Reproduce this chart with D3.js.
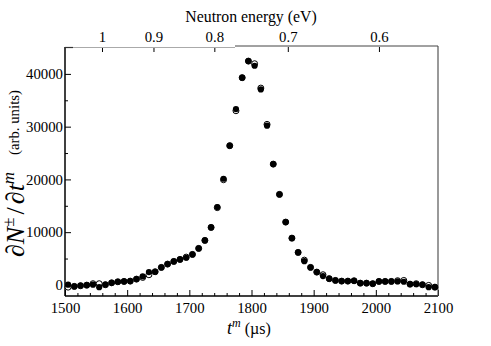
<!DOCTYPE html>
<html><head><meta charset="utf-8">
<script src="https://cdn.jsdelivr.net/npm/d3@7/dist/d3.min.js"></script>
<style>body{margin:0;background:#fff}</style>
</head><body><svg id="c" width="491" height="346" font-family="Liberation Serif"></svg>
<script>
// time of flight (µs), bin centres
const times = [1505,1515,1525,1535,1545,1555,1565,1575,1585,1595,1605,1615,1625,1635,1645,1655,1665,1675,1685,1695,1705,1715,1725,1735,1745,1755,1765,1775,1785,1795,1805,1815,1825,1835,1845,1855,1865,1875,1885,1895,1905,1915,1925,1935,1945,1955,1965,1975,1985,1995,2005,2015,2025,2035,2045,2055,2065,2075,2085,2095];
// filled circles
const filled = [40,-280,-150,-40,40,-420,40,400,600,660,720,1100,1610,2430,2500,3320,3950,4450,4830,5150,5780,6920,8440,10900,14750,20130,26390,33330,39280,42430,41550,37060,30180,22900,17160,11910,8870,6160,4510,3320,2430,1670,1180,850,720,720,790,340,340,230,660,660,660,660,600,150,150,40,-420,-420];
// open circles
const open = [-420,-280,-150,-40,230,230,40,400,600,660,720,1100,1420,1930,2500,3320,3950,4450,4830,5270,5780,6920,8440,10900,14650,19940,26390,33020,39280,42430,41930,37310,30430,22900,17160,11910,8870,6160,4700,3320,2430,1930,1180,850,720,720,790,340,340,230,660,660,660,800,850,150,230,40,-90,-420];
const xTicks = [1500,1600,1700,1800,1900,2000,2100];
const yTicks = [0,10000,20000,30000,40000];
const energyTicks = [1,0.9,0.8,0.7,0.6];

const FONT = "Liberation Serif";
const svg = d3.select("#c");
const L=65,R=438,T=47,B=296;
const x = d3.scaleLinear().domain([1500,2100]).range([L,R]);
const y = d3.scaleLinear().domain([-2100,45100]).range([B,T]);
// energy -> time-of-flight calibration
const eToT = e => 1531/Math.sqrt(e)+28.5;

function styleAxis(g){
  g.attr("font-family",FONT);
  g.select(".domain").remove();
  g.selectAll("text").attr("font-family",FONT).attr("font-size",14.8).attr("fill","#000");
  g.selectAll("line").attr("stroke","#000");
}

// bottom axis (ticks inward)
svg.append("g").attr("transform",`translate(0,${B})`)
  .call(d3.axisBottom(x).tickValues(xTicks).tickSize(-6).tickPadding(10).tickFormat(d3.format("d")))
  .call(styleAxis)
  .selectAll("text").attr("dy","0.5em");
svg.append("g").attr("transform",`translate(0,${B})`)
  .call(d3.axisBottom(x).tickValues(d3.range(1520,2100,20).filter(v=>v%100)).tickSize(-3).tickFormat(""))
  .call(styleAxis);

// left axis
svg.append("g").attr("transform",`translate(${L},0)`)
  .call(d3.axisLeft(y).tickValues(yTicks).tickSize(-6).tickPadding(2).tickFormat(d3.format("d")))
  .call(styleAxis);
svg.append("g").attr("transform",`translate(${L},0)`)
  .call(d3.axisLeft(y).tickValues([5000,15000,25000,35000]).tickSize(-3).tickFormat(""))
  .call(styleAxis);

// top energy axis
svg.append("g").attr("transform",`translate(0,${T})`)
  .call(d3.axisTop(x).tickValues(energyTicks.map(eToT)).tickSize(-5).tickPadding(5)
     .tickFormat((d,i)=>String(energyTicks[i])))
  .call(styleAxis);

// frame
svg.append("line").attr("x1",L).attr("x2",L).attr("y1",T).attr("y2",B).attr("stroke","#000").attr("stroke-width",1.5);
svg.append("line").attr("x1",L).attr("x2",R).attr("y1",B).attr("y2",B).attr("stroke","#000").attr("stroke-width",1.5);
svg.append("line").attr("x1",R).attr("x2",R).attr("y1",T-1).attr("y2",B).attr("stroke","#555").attr("stroke-width",1.2);
svg.append("line").attr("x1",L).attr("x2",L+8).attr("y1",T+0.5).attr("y2",T+0.5).attr("stroke","#333").attr("stroke-width",1.2);
svg.append("line").attr("x1",L+8).attr("x2",235).attr("y1",T+0.5).attr("y2",T+0.5).attr("stroke","#aaa").attr("stroke-width",1);
svg.append("line").attr("x1",235).attr("x2",R).attr("y1",T-1).attr("y2",T-1).attr("stroke","#444").attr("stroke-width",1);

// data
svg.append("g").selectAll("circle").data(times).join("circle")
  .attr("cx",(d)=>x(d)).attr("cy",(d,i)=>y(open[i])).attr("r",3)
  .attr("fill","#fff").attr("stroke","#000").attr("stroke-width",1);
svg.append("g").selectAll("circle").data(times).join("circle")
  .attr("cx",(d)=>x(d)).attr("cy",(d,i)=>y(filled[i])).attr("r",3.1)
  .attr("fill","#000");

// titles
const txt = () => svg.append("text").attr("font-family",FONT).attr("fill","#000");
txt().attr("x",251).attr("y",22).attr("text-anchor","middle").attr("font-size",15.8).text("Neutron energy (eV)");
const xt = txt().attr("x",249).attr("y",334).attr("text-anchor","middle").attr("font-size",16);
xt.append("tspan").attr("font-style","italic").attr("font-size",18).text("t");
xt.append("tspan").attr("font-style","italic").attr("font-size",12).attr("dy","-7").text("m");
xt.append("tspan").attr("dy","7").text(" (\u00b5s)");

// y label: math part
const ym = txt().attr("transform","translate(24,257) rotate(-90)").attr("text-anchor","start").attr("font-size",26);
ym.append("tspan").text("\u2202");
ym.append("tspan").attr("font-style","italic").text("N");
ym.append("tspan").attr("font-size",17).attr("dy","-10").text("\u00b1");
ym.append("tspan").attr("dy","10").attr("dx","3").text("/");
ym.append("tspan").attr("dx","3").text("\u2202");
ym.append("tspan").attr("font-style","italic").text("t");
ym.append("tspan").attr("font-style","italic").attr("font-size",17).attr("dy","-10").text("m");
// y label: units
txt().attr("transform","translate(19,155) rotate(-90)").attr("text-anchor","start")
  .attr("font-size",14.8).text("(arb. units)");
</script></body></html>
